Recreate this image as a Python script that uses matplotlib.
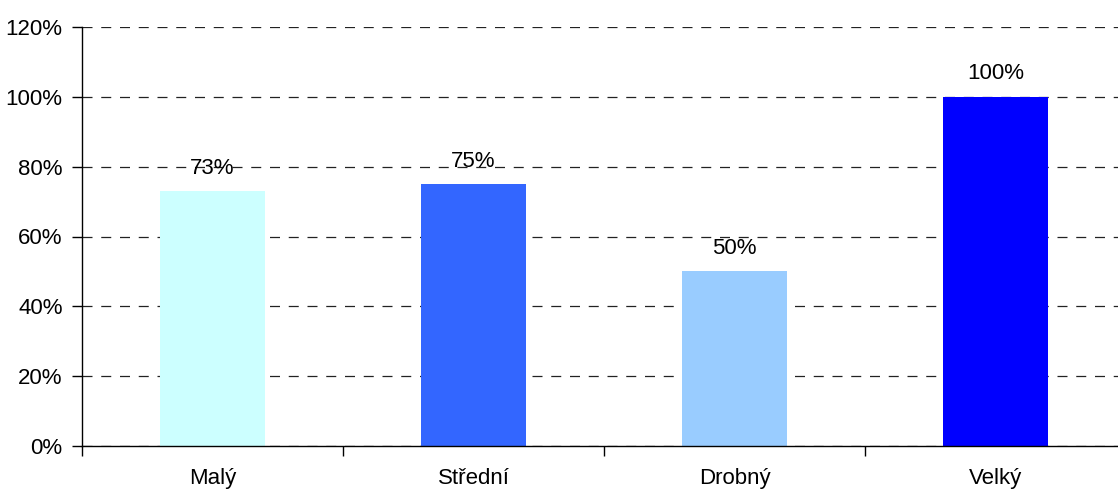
import matplotlib
matplotlib.use("Agg")
import matplotlib.pyplot as plt
from matplotlib.ticker import FuncFormatter

categories = ["Malý", "Střední", "Drobný", "Velký"]
values = [73, 75, 50, 100]
bar_colors = ["#CCFFFF", "#3366FF", "#99CCFF", "#0000FF"]
yticks = [0, 20, 40, 60, 80, 100, 120]

plt.rcParams['font.family'] = ['Liberation Sans', 'DejaVu Sans']

fig = plt.figure(figsize=(11.18, 4.91), dpi=100)
# axes right edge runs past the figure, as in the original
ax = fig.add_axes([82 / 1118, 45 / 491, 1044 / 1118, 419 / 491])

x = list(range(len(categories)))
bars = ax.bar(x, values, width=0.4, color=bar_colors, zorder=2)

for b, v in zip(bars, values):
    ax.annotate(f"{v}%", (b.get_x() + b.get_width() / 2, v),
                xytext=(0, 9), textcoords="offset points",
                ha="center", va="bottom", fontsize=16, zorder=3)

ax.set_xlim(-0.5, len(categories) - 0.5)
ax.set_ylim(0, 120)
ax.set_yticks(yticks)
ax.yaxis.set_major_formatter(FuncFormatter(lambda v, p: f"{v:.0f}%"))
ax.yaxis.grid(True, linestyle=(0, (8, 7)), color="#222222", linewidth=0.9, zorder=1)
ax.set_axisbelow(True)

# category ticks sit between the bars
ax.set_xticks([i - 0.5 for i in x] + [len(x) - 0.5])
ax.set_xticklabels([])
ax.set_xticks(x, minor=True)
ax.set_xticklabels(categories, minor=True)
ax.tick_params(axis="x", which="minor", length=0, pad=16, labelsize=16)
ax.tick_params(axis="x", which="major", length=7, width=1, direction="out")
ax.tick_params(axis="y", length=7, width=1, labelsize=16, pad=7)

for s in ["top", "right"]:
    ax.spines[s].set_visible(False)
ax.spines["left"].set_linewidth(1)
ax.spines["bottom"].set_linewidth(1)

fig.savefig("out.png", dpi=100)
